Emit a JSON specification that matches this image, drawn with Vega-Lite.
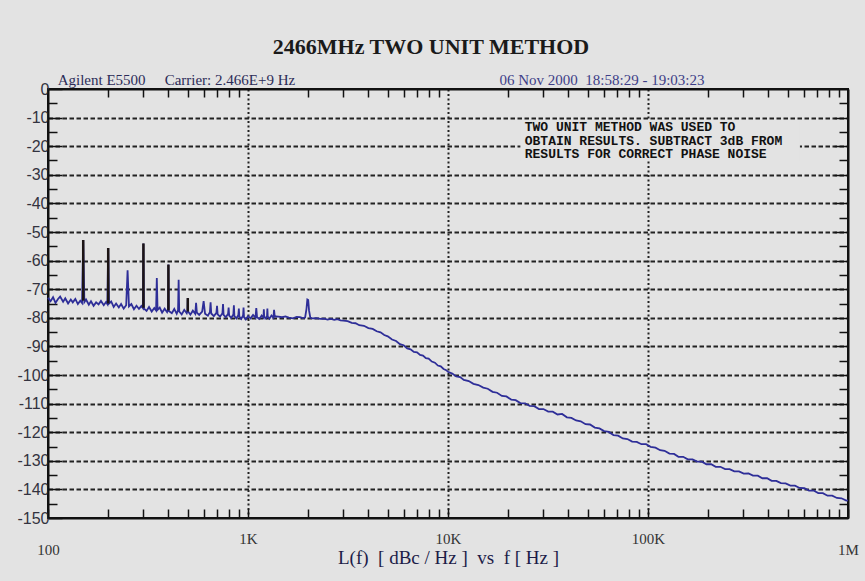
{
"$schema": "https://vega.github.io/schema/vega-lite/v6.json",
"autosize": {"type": "none"},
"width": 800, "height": 429,
"padding": {"left": 48, "top": 89, "right": 17, "bottom": 63},
"background": "#e3e3e3",
"title": {"text": "2466MHz TWO UNIT METHOD", "font": "Liberation Serif", "fontSize": 22, "fontWeight": "bold", "color": "#1a1a1a", "dx": -17, "offset": 14, "anchor": "middle"},
"config": {"view": {"stroke": "#111", "strokeWidth": 2}},
"datasets": {
"trace": [
{"f":100,"db":-73.0},{"f":103,"db":-74.2},{"f":106,"db":-72.8},{"f":109,"db":-74.8},{"f":112,"db":-73.5},{"f":115,"db":-72.6},{"f":119,"db":-74.4},{"f":122,"db":-73.2},{"f":126,"db":-75.0},{"f":130,"db":-73.6},{"f":133,"db":-74.6},{"f":137,"db":-73.4},{"f":141,"db":-75.2},{"f":145,"db":-74.0},{"f":148,"db":-74.8},{"f":150,"db":-52.8},{"f":152,"db":-74.5},{"f":155,"db":-73.6},{"f":160,"db":-75.4},{"f":164,"db":-74.2},{"f":169,"db":-75.8},{"f":174,"db":-74.6},{"f":179,"db":-75.3},{"f":184,"db":-74.1},{"f":190,"db":-75.6},{"f":195,"db":-74.5},{"f":198,"db":-75.2},{"f":200,"db":-55.6},{"f":202,"db":-75.0},{"f":207,"db":-74.3},{"f":213,"db":-76.2},{"f":219,"db":-75.0},{"f":226,"db":-76.4},{"f":232,"db":-75.2},{"f":239,"db":-76.8},{"f":246,"db":-75.6},{"f":250,"db":-63.4},{"f":254,"db":-76.0},{"f":261,"db":-75.2},{"f":269,"db":-77.0},{"f":277,"db":-75.8},{"f":285,"db":-76.9},{"f":293,"db":-75.9},{"f":298,"db":-76.6},{"f":300,"db":-54.0},{"f":302,"db":-76.8},{"f":311,"db":-77.6},{"f":320,"db":-76.2},{"f":330,"db":-77.8},{"f":340,"db":-76.6},{"f":347,"db":-77.4},{"f":350,"db":-66.1},{"f":353,"db":-77.2},{"f":362,"db":-76.4},{"f":372,"db":-78.2},{"f":383,"db":-76.8},{"f":394,"db":-78.0},{"f":398,"db":-77.2},{"f":400,"db":-61.4},{"f":402,"db":-77.6},{"f":416,"db":-78.4},{"f":428,"db":-76.9},{"f":440,"db":-78.6},{"f":447,"db":-77.3},{"f":450,"db":-66.7},{"f":453,"db":-77.8},{"f":466,"db":-78.8},{"f":480,"db":-77.2},{"f":494,"db":-78.4},{"f":498,"db":-77.6},{"f":500,"db":-73.1},{"f":502,"db":-77.8},{"f":515,"db":-78.9},{"f":530,"db":-77.5},{"f":545,"db":-78.6},{"f":550,"db":-74.8},{"f":555,"db":-78.2},{"f":570,"db":-79.0},{"f":590,"db":-77.8},{"f":600,"db":-74.2},{"f":610,"db":-78.6},{"f":630,"db":-79.3},{"f":645,"db":-78.0},{"f":650,"db":-74.6},{"f":655,"db":-78.5},{"f":675,"db":-79.4},{"f":695,"db":-78.3},{"f":700,"db":-75.8},{"f":705,"db":-78.8},{"f":725,"db":-79.6},{"f":745,"db":-78.4},{"f":750,"db":-75.2},{"f":755,"db":-79.0},{"f":775,"db":-79.8},{"f":795,"db":-78.6},{"f":800,"db":-76.4},{"f":805,"db":-79.2},{"f":825,"db":-80.0},{"f":845,"db":-78.8},{"f":850,"db":-75.6},{"f":855,"db":-79.4},{"f":875,"db":-80.2},{"f":895,"db":-79.0},{"f":900,"db":-76.8},{"f":905,"db":-79.6},{"f":925,"db":-80.4},{"f":945,"db":-79.2},{"f":950,"db":-76.4},{"f":955,"db":-79.8},{"f":975,"db":-80.6},{"f":1000,"db":-79.4},{"f":1030,"db":-80.2},{"f":1060,"db":-79.0},{"f":1090,"db":-80.0},{"f":1100,"db":-76.6},{"f":1110,"db":-79.8},{"f":1140,"db":-80.4},{"f":1170,"db":-79.2},{"f":1195,"db":-80.0},{"f":1200,"db":-77.0},{"f":1205,"db":-79.6},{"f":1230,"db":-80.2},{"f":1245,"db":-79.4},{"f":1250,"db":-76.8},{"f":1255,"db":-79.6},{"f":1280,"db":-80.3},{"f":1310,"db":-79.2},{"f":1340,"db":-80.0},{"f":1350,"db":-77.2},{"f":1360,"db":-79.6},{"f":1375,"db":-79.5},
{"f":1420,"db":-79.6},{"f":1480,"db":-79.8},{"f":1540,"db":-79.5},{"f":1600,"db":-79.9},{"f":1680,"db":-80.2},{"f":1750,"db":-79.7},{"f":1820,"db":-79.8},{"f":1880,"db":-80.1},{"f":1930,"db":-79.9},{"f":1960,"db":-77.0},{"f":1980,"db":-73.6},{"f":2000,"db":-73.8},{"f":2020,"db":-77.5},{"f":2050,"db":-80.0},{"f":2100,"db":-80.2},{"f":2200,"db":-80.1},{"f":2300,"db":-80.4},{"f":2400,"db":-80.3},{"f":2500,"db":-80.6},{"f":2600,"db":-80.4},{"f":2700,"db":-80.7},{"f":2800,"db":-80.5},{"f":2900,"db":-80.9},
{"f":3000,"db":-81.0},{"f":3150,"db":-81.2},{"f":3300,"db":-81.8},{"f":3450,"db":-81.9},{"f":3600,"db":-82.6},{"f":3800,"db":-82.8},{"f":4000,"db":-83.6},{"f":4200,"db":-83.9},{"f":4400,"db":-84.7},{"f":4600,"db":-85.1},{"f":4800,"db":-86.0},{"f":5000,"db":-86.5},{"f":5250,"db":-87.6},{"f":5500,"db":-88.1},{"f":5750,"db":-89.2},{"f":6000,"db":-89.6},{"f":6250,"db":-90.7},{"f":6500,"db":-91.0},{"f":6750,"db":-91.9},{"f":7000,"db":-92.1},{"f":7250,"db":-93.0},{"f":7500,"db":-93.2},{"f":7750,"db":-94.1},{"f":8000,"db":-94.3},{"f":8300,"db":-95.3},{"f":8600,"db":-95.7},{"f":8900,"db":-96.7},{"f":9200,"db":-97.0},{"f":9500,"db":-97.9},{"f":9800,"db":-98.3},{"f":10000,"db":-98.9},{"f":10500,"db":-99.5},{"f":11000,"db":-100.5},{"f":11500,"db":-100.7},{"f":12000,"db":-101.7},{"f":12700,"db":-102.1},{"f":13400,"db":-103.1},{"f":14200,"db":-103.5},{"f":15000,"db":-104.4},{"f":15800,"db":-104.8},{"f":16700,"db":-105.9},{"f":17600,"db":-106.2},{"f":18600,"db":-107.3},{"f":19600,"db":-107.5},{"f":20700,"db":-108.6},{"f":21800,"db":-108.8},{"f":23000,"db":-109.8},{"f":24300,"db":-109.9},{"f":25600,"db":-110.8},{"f":27000,"db":-110.9},{"f":28500,"db":-111.9},{"f":30000,"db":-111.9},{"f":31700,"db":-112.8},{"f":33400,"db":-112.8},{"f":35300,"db":-113.8},{"f":37200,"db":-113.6},{"f":39300,"db":-114.8},{"f":41400,"db":-115.0},{"f":43700,"db":-115.9},{"f":46100,"db":-116.2},{"f":48700,"db":-117.2},{"f":51300,"db":-117.3},{"f":54200,"db":-118.4},{"f":57200,"db":-118.7},{"f":60300,"db":-119.6},{"f":63700,"db":-119.9},{"f":67200,"db":-121.0},{"f":70900,"db":-121.2},{"f":74800,"db":-122.2},{"f":78900,"db":-122.4},{"f":83300,"db":-123.3},{"f":87900,"db":-123.4},{"f":92700,"db":-124.2},{"f":97800,"db":-124.2},{"f":103000,"db":-125.1},{"f":109000,"db":-125.4},{"f":115000,"db":-126.3},{"f":121000,"db":-126.5},{"f":128000,"db":-127.5},{"f":135000,"db":-127.6},{"f":142000,"db":-128.6},{"f":150000,"db":-128.6},{"f":158000,"db":-129.5},{"f":167000,"db":-129.5},{"f":176000,"db":-130.3},{"f":186000,"db":-130.3},{"f":196000,"db":-131.2},{"f":207000,"db":-131.2},{"f":218000,"db":-132.1},{"f":230000,"db":-132.1},{"f":243000,"db":-132.9},{"f":256000,"db":-132.9},{"f":270000,"db":-133.7},{"f":285000,"db":-133.7},{"f":301000,"db":-134.5},{"f":318000,"db":-134.4},{"f":335000,"db":-135.2},{"f":354000,"db":-135.2},{"f":373000,"db":-136.1},{"f":394000,"db":-136.1},{"f":415000,"db":-137.0},{"f":438000,"db":-137.0},{"f":462000,"db":-137.8},{"f":488000,"db":-137.9},{"f":515000,"db":-138.7},{"f":543000,"db":-138.7},{"f":573000,"db":-139.5},{"f":605000,"db":-139.6},{"f":638000,"db":-140.4},{"f":673000,"db":-140.4},{"f":710000,"db":-141.3},{"f":749000,"db":-141.3},{"f":790000,"db":-142.2},{"f":834000,"db":-142.2},{"f":880000,"db":-143.0},{"f":928000,"db":-143.1},{"f":980000,"db":-143.9},{"f":1000000,"db":-143.8}
],
"spurs": [
{"f":150,"lo":-74.0,"hi":-52.8},{"f":200,"lo":-75.0,"hi":-55.6},{"f":300,"lo":-76.5,"hi":-54.0},{"f":400,"lo":-77.4,"hi":-61.4},{"f":500,"lo":-77.8,"hi":-73.1}
],
"box": [{"f1":23000,"f2":575000,"d1":-10.9,"d2":-25.2}],
"note": [{"f":24200,"db":-11.2,"text":"TWO UNIT METHOD WAS USED TO\nOBTAIN RESULTS. SUBTRACT 3dB FROM\nRESULTS FOR CORRECT PHASE NOISE"}],
"header": [
{"f":111.8,"db":1.3,"text":"Agilent E5500","c":"a"},
{"f":383,"db":1.3,"text":"Carrier: 2.466E+9 Hz","c":"a"},
{"f":18100,"db":1.3,"text":"06 Nov 2000\u00a0\u00a018:58:29 - 19:03:23","c":"b"}
]
},
"layer": [
{
"data": {"name": "trace"},
"mark": {"type": "line", "color": "#2e2e98", "strokeWidth": 1.8},
"encoding": {
"x": {"field": "f", "type": "quantitative",
"scale": {"type": "log", "domain": [100, 1000000], "nice": false},
"axis": {"orient": "bottom",
"values": [100,200,300,400,500,600,700,800,900,1000,2000,3000,4000,5000,6000,7000,8000,9000,10000,20000,30000,40000,50000,60000,70000,80000,90000,100000,200000,300000,400000,500000,600000,700000,800000,900000,1000000],
"labelExpr": "datum.value == 100 ? ['', '100'] : datum.value == 1000 ? '1K' : datum.value == 10000 ? '10K' : datum.value == 100000 ? '100K' : datum.value == 1000000 ? ['', '1M'] : ''",
"labelOverlap": false, "labelFlush": false, "labelFont": "Liberation Serif", "labelFontSize": 15, "labelColor": "#333333", "labelPadding": 22, "labelLineHeight": 11, "labelBaseline": "top",
"tickSize": -9, "tickColor": "#111111", "tickWidth": 1.5,
"domainColor": "#111111", "domainWidth": 2,
"grid": true, "gridColor": "#222222", "gridWidth": 2, "gridDash": [2, 2.5],
"gridOpacity": {"condition": {"test": "datum.value == 1000 || datum.value == 10000 || datum.value == 100000", "value": 1}, "value": 0},
"title": "L(f)\u00a0\u00a0[ dBc / Hz ]\u00a0\u00a0vs\u00a0\u00a0f [ Hz ]", "titleFont": "Liberation Serif", "titleFontSize": 19, "titleFontWeight": "normal", "titleColor": "#1c1c48", "titlePadding": -9}
},
"y": {"field": "db", "type": "quantitative",
"scale": {"domain": [-150, 0], "nice": false},
"axis": {"orient": "left",
"values": [0,-5,-10,-15,-20,-25,-30,-35,-40,-45,-50,-55,-60,-65,-70,-75,-80,-85,-90,-95,-100,-105,-110,-115,-120,-125,-130,-135,-140,-145,-150],
"labelExpr": "datum.value % 10 == 0 ? '' + datum.value : ''",
"labelFont": "Liberation Sans", "labelFontSize": 16, "labelColor": "#333340", "labelPadding": 13, "labelBaseline": "middle",
"tickSize": {"condition": {"test": "datum.value % 10 == 0", "value": -14}, "value": -9}, "tickColor": "#111111", "tickWidth": 1.5,
"domainColor": "#111111", "domainWidth": 2,
"grid": true, "gridColor": "#222222", "gridWidth": 2, "gridDash": [4.5, 2.5],
"gridOpacity": {"condition": {"test": "datum.value % 10 == 0 && datum.value < 0 && datum.value > -150", "value": 1}, "value": 0},
"title": null}
}
}
},
{
"data": {"name": "spurs"},
"mark": {"type": "rule", "color": "#1c1414", "strokeWidth": 2.5},
"encoding": {
"x": {"field": "f", "type": "quantitative",
"axis": {"orient": "top",
"values": [200,300,400,500,600,700,800,900,2000,3000,4000,5000,6000,7000,8000,9000,20000,30000,40000,50000,60000,70000,80000,90000,200000,300000,400000,500000,600000,700000,800000,900000],
"labels": false, "tickSize": -8, "tickColor": "#111111", "tickWidth": 1.5, "domainColor": "#111111", "domainWidth": 2, "grid": false, "title": null}},
"y": {"field": "lo", "type": "quantitative",
"axis": {"orient": "right",
"values": [-5,-10,-15,-20,-25,-30,-35,-40,-45,-50,-55,-60,-65,-70,-75,-80,-85,-90,-95,-100,-105,-110,-115,-120,-125,-130,-135,-140,-145],
"labels": false, "tickSize": {"condition": {"test": "datum.value % 10 == 0", "value": -14}, "value": -9}, "tickColor": "#111111", "tickWidth": 1.5, "domainColor": "#111111", "domainWidth": 2, "grid": false, "title": null}},
"y2": {"field": "hi"}
}
},
{
"data": {"name": "box"},
"mark": {"type": "rect", "fill": "#e3e3e3"},
"encoding": {
"x": {"field": "f1", "type": "quantitative", "axis": null},
"x2": {"field": "f2"},
"y": {"field": "d1", "type": "quantitative", "axis": null},
"y2": {"field": "d2"}
}
},
{
"data": {"name": "note"},
"mark": {"type": "text", "font": "Liberation Mono", "fontSize": 13, "fontWeight": "bold", "color": "#111111", "align": "left", "baseline": "top", "lineBreak": "\n", "lineHeight": 13.5},
"encoding": {
"x": {"field": "f", "type": "quantitative", "axis": null},
"y": {"field": "db", "type": "quantitative", "axis": null},
"text": {"field": "text"}
}
},
{
"data": {"name": "header"},
"mark": {"type": "text", "font": "Liberation Serif", "fontSize": 15, "align": "left", "baseline": "alphabetic"},
"encoding": {
"x": {"field": "f", "type": "quantitative", "axis": null},
"y": {"field": "db", "type": "quantitative", "axis": null},
"text": {"field": "text"},
"color": {"field": "c", "type": "nominal", "scale": {"domain": ["a", "b"], "range": ["#2c2c58", "#3e3e88"]}, "legend": null}
}
}
],
"resolve": {"axis": {"x": "independent", "y": "independent"}}
}
